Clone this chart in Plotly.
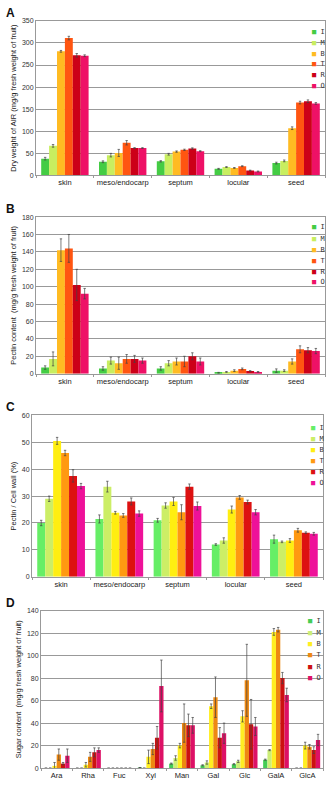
import plotly.graph_objects as go

series = ["I", "M", "B", "T", "R", "O"]
tissues = ["skin", "meso/endocarp", "septum", "locular", "seed"]
sugars = ["Ara", "Rha", "Fuc", "Xyl", "Man", "Gal", "Glc", "GalA", "GlcA"]

# Panel A: dry weight of AIR (values per series across tissues)
a_vals = {
    "I": [38, 31, 32, 15, 28],
    "M": [67, 46, 48, 19, 33],
    "B": [281, 51, 54, 17, 107],
    "T": [311, 74, 58, 21, 165],
    "R": [272, 62, 61, 11, 168],
    "O": [271, 62, 55, 9, 163],
}
a_errs = {
    "I": [3, 2, 1.5, 1, 2],
    "M": [3, 4, 2, 1, 2],
    "B": [2, 8, 1.5, 1, 3],
    "T": [4, 5, 1.5, 1, 3],
    "R": [4, 1, 1.5, 1, 3],
    "O": [2, 1, 1, 1, 2],
}
# Panel B: pectin content
b_vals = {
    "I": [7, 6, 6, 1, 3.5],
    "M": [17, 15, 12, 2, 3.5],
    "B": [142, 12, 14, 3.5, 14],
    "T": [144, 17, 14, 5.5, 28],
    "R": [102, 17, 20, 3, 27],
    "O": [92, 15, 14, 2, 26],
}
b_errs = {
    "I": [2, 2, 2, 0.5, 2],
    "M": [8, 4, 3, 0.5, 1],
    "B": [13, 7, 4, 1, 3],
    "T": [16, 5, 6, 1, 4],
    "R": [18, 4, 4, 0.5, 3],
    "O": [6, 3, 4, 0.5, 3],
}
# Panel C: pectin / cell wall (%)
c_vals = {
    "I": [20, 21.5, 21, 12, 14],
    "M": [29, 33.5, 26.5, 13.5, 13],
    "B": [50.5, 23.8, 28, 25, 13.5],
    "T": [46, 22.8, 24, 29.5, 17.3],
    "R": [37.5, 28, 33.5, 27.8, 16.4],
    "O": [33.7, 23.5, 26.3, 24, 16],
}
c_errs = {
    "I": [1, 1.5, 0.7, 0.3, 1.5],
    "M": [1, 2, 1, 1, 0.3],
    "B": [1.3, 0.5, 1.5, 1.3, 0.7],
    "T": [1, 0.7, 2.8, 0.7, 0.7],
    "R": [2.3, 1.3, 1, 0.7, 0.3],
    "O": [1, 1, 1.5, 1, 0.5],
}
# Panel D: sugar content (None = no error bar shown)
d_vals = {
    "I": [0, 0, 0, 0.5, 4, 2.5, 3.5, 7.5, 0],
    "M": [0, 0, 0, 0, 9, 5, 6, 16, 0],
    "B": [2, 3, 0, 10, 20, 55, 46, 121, 20],
    "T": [12, 10, 0, 17, 40, 63, 78, 123, 19],
    "R": [4, 14, 0, 27, 38, 27, 39, 80, 16],
    "O": [11, 16, 0, 73, 38, 31, 37, 65, 25],
}
d_errs = {
    "I": [None, None, None, None, 0.5, 0.5, 0.5, 0.5, None],
    "M": [None, None, None, None, 2, 1.5, 1, 0.5, None],
    "B": [3, 2, None, 6, 2, 2, 5, 3, 3],
    "T": [5, 4, None, 5, 17, 18, 32, 2, 2],
    "R": [1, 4, None, 10, 10, 9, 22, 5, 3],
    "O": [6, 2, None, 23, 7, 9, 8, 6, 5],
}

pal_ab = ["#44cc44", "#c8ee60", "#ffbb22", "#ff5511", "#cc0018", "#ee1166"]
pal_c = ["#66ee66", "#ccee66", "#ffee11", "#ff9911", "#dd1111", "#ee1199"]
pal_d = ["#44cc55", "#ccee77", "#ffee22", "#ee8811", "#cc1111", "#dd1166"]

W, H = 327, 785
def fx(px):
    return px / W
def fy(py):
    return 1 - py / H

panels = [
    dict(cats=tissues, vals=a_vals, errs=a_errs, pal=pal_ab, rng=[0, 350], dt=50,
         title="Dry weight of AIR (mg/g fresh weight of fruit)", letter="A",
         x0=36, x1=325, top=17, bot=173, ly=[28, 39, 50, 61, 72, 83], lx=312),
    dict(cats=tissues, vals=b_vals, errs=b_errs, pal=pal_ab, rng=[0, 180], dt=20,
         title="Pectin content  (mg/g fresh weight of fruit)", letter="B",
         x0=36, x1=325, top=215, bot=373, ly=[225, 237, 248, 259, 270, 281], lx=312),
    dict(cats=tissues, vals=c_vals, errs=c_errs, pal=pal_c, rng=[0, 60], dt=10,
         title="Pectin / Cell wall (%)", letter="C",
         x0=32, x1=323, top=415, bot=578, ly=[428, 439, 450, 461, 472, 483], lx=311),
    dict(cats=sugars, vals=d_vals, errs=d_errs, pal=pal_d, rng=[0, 140], dt=20,
         title="Sugar content  (mg/g fresh weight of fruit)", letter="D",
         x0=41, x1=323, top=612, bot=771, ly=[623, 635, 646, 657, 669, 680], lx=308),
]

FONT = "Liberation Sans, Arial, sans-serif"
fig = go.Figure()
layout = dict(
    width=W, height=H, margin=dict(l=0, r=0, t=0, b=0),
    paper_bgcolor="white", plot_bgcolor="white",
    barmode="group", bargap=0.18, bargroupgap=0,
    showlegend=False, font=dict(family=FONT, size=7, color="#333"),
)
annotations = []
for i, p in enumerate(panels):
    n = "" if i == 0 else str(i + 1)
    for k, s in enumerate(series):
        fig.add_trace(go.Bar(
            x=p["cats"], y=p["vals"][s], name=s,
            marker=dict(color=p["pal"][k], line=dict(width=0)),
            error_y=dict(type="data", array=p["errs"][s], color="#444",
                         thickness=0.7, width=1.2),
            xaxis="x" + n, yaxis="y" + n,
        ))
    layout["xaxis" + n] = dict(
        domain=[fx(p["x0"]), fx(p["x1"])], anchor="y" + n,
        showline=True, linecolor="#999", linewidth=1, mirror=True,
        ticks="outside", tickson="boundaries", ticklen=2, tickcolor="#999",
        tickangle=0, tickfont=dict(size=7.5, color="#222"), showgrid=False,
        fixedrange=True,
    )
    layout["yaxis" + n] = dict(
        domain=[fy(p["bot"]), fy(p["top"])], anchor="x" + n,
        range=p["rng"], dtick=p["dt"], showgrid=True, gridcolor="#999",
        gridwidth=1, showline=True, linecolor="#999", mirror=True,
        ticks="", tickfont=dict(size=7, color="#333"), zeroline=False,
        title=dict(text=p["title"], font=dict(size=7.5, color="#222"), standoff=4),
        fixedrange=True,
    )
    annotations.append(dict(
        text="<b>%s</b>" % p["letter"], xref="paper", yref="paper",
        x=fx(4), y=fy(p["top"] - 8), xanchor="left", yanchor="middle",
        showarrow=False, font=dict(size=12, color="#111", family=FONT),
    ))
    for k, s in enumerate(series):
        annotations.append(dict(
            text="<span style='color:%s'>■</span> %s" % (p["pal"][k], s),
            xref="paper", yref="paper", x=fx(p["lx"] - 2), y=fy(p["ly"][k]),
            xanchor="left", yanchor="middle", showarrow=False,
            font=dict(size=7, color="#333", family="DejaVu Sans Mono, monospace"),
        ))
layout["annotations"] = annotations
fig.update_layout(**layout)
fig.write_html("out.html")
